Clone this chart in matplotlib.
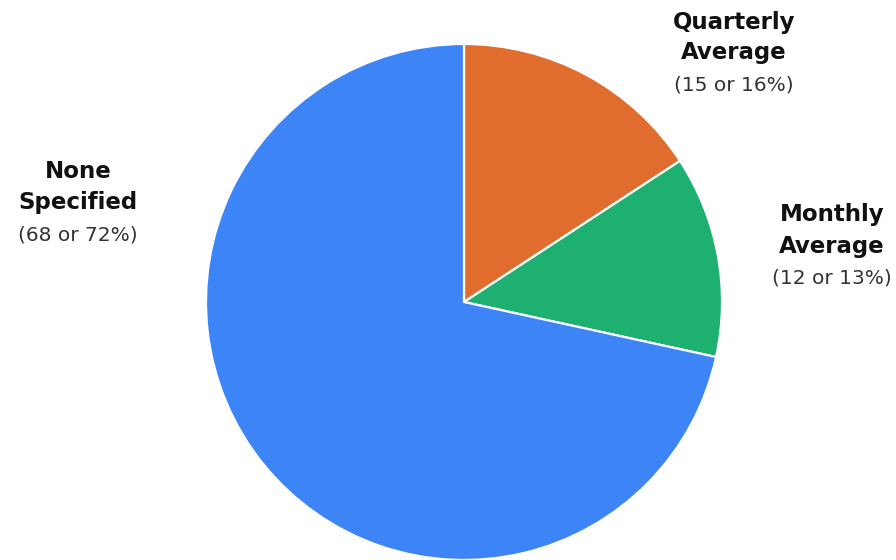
import matplotlib
matplotlib.use("Agg")
import matplotlib.pyplot as plt

categories = ["Quarterly\nAverage", "Monthly\nAverage", "None\nSpecified"]
counts = [15, 12, 68]
percents = [16, 13, 72]
colors = ["#E06C2E", "#1DB071", "#3D85F6"]

W, H = 896, 560
fig = plt.figure(figsize=(W / 100, H / 100), dpi=100)
ax = fig.add_axes([0, 0, 1, 1])

cx, cy, r = 464, H - 302, 258
ax.pie(counts, colors=colors, startangle=90, counterclock=False,
       center=(cx, cy), radius=r, frame=True,
       wedgeprops=dict(edgecolor="white", linewidth=1.6))
ax.set_xlim(0, W)
ax.set_ylim(0, H)
ax.axis("off")

# label positions (pixel, top-origin) per category
label_x = [734, 832, 78]
label_y = [22, 215, 172]
gap = 31
for cat, n, p, lx, ly in zip(categories, counts, percents, label_x, label_y):
    l1, l2 = cat.split("\n")
    ax.text(lx, H - ly, l1, ha="center", va="center", fontsize=16.5,
            fontweight="bold", color="#111111", family="DejaVu Sans")
    ax.text(lx, H - (ly + gap), l2, ha="center", va="center", fontsize=16.5,
            fontweight="bold", color="#111111", family="DejaVu Sans")
    ax.text(lx, H - (ly + 2 * gap + 1), f"({n} or {p}%)", ha="center", va="center",
            fontsize=14.5, color="#333333", family="DejaVu Sans")

fig.savefig("out.png", dpi=100)
